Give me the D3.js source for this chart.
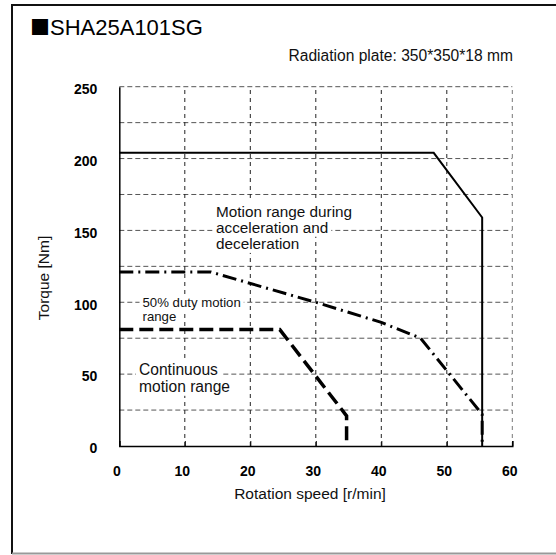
<!DOCTYPE html>
<html>
<head>
<meta charset="utf-8">
<script src="https://cdn.jsdelivr.net/npm/d3@7"></script>
<style>
  html, body { margin: 0; padding: 0; background: #fff; }
  svg { display: block; font-family: "Liberation Sans", Arial, sans-serif; }
</style>
</head>
<body>
<svg id="chart" width="556" height="555"></svg>
<script>
// ---- data ----
const titleMark = "■";
const titleText = "SHA25A101SG";
const noteText = "Radiation plate: 350*350*18 mm";
const xLabel = "Rotation speed [r/min]";
const yLabel = "Torque [Nm]";
const xTicks = [0, 10, 20, 30, 40, 50, 60];
const yTicks = [0, 50, 100, 150, 200, 250];
const xGrid = [10, 20, 30, 40, 50, 60];
const yGrid = [25, 50, 75, 100, 125, 150, 175, 200, 225, 250];

// Motion range during acceleration and deceleration (solid)
const accelSpeed  = [0, 48, 55.4, 55.4];
const accelTorque = [204, 204, 159, 0];
// 50% duty motion range (dash-dot)
const dutySpeed  = [0, 14, 30, 40, 46, 55.4, 55.4];
const dutyTorque = [121, 121, 100, 86, 75, 22, 0];
// Continuous motion range (dashed)
const contSpeed  = [0, 24.5, 34.7, 34.7];
const contTorque = [81, 81, 21, 0];

const accelLabel = ["Motion range during", "acceleration and", "deceleration"];
const dutyLabel = ["50% duty motion", "range"];
const contLabel = ["Continuous", "motion range"];

// ---- drawing ----
const svg = d3.select("#chart");
const x = d3.scaleLinear().domain([0, 60]).range([119.3, 512.3]);
const y = d3.scaleLinear().domain([0, 250]).range([446, 86.7]);

// frame
svg.append("line").attr("x1", 12).attr("x2", 556).attr("y1", 5).attr("y2", 5)
  .attr("stroke", "#111").attr("stroke-width", 2);
svg.append("line").attr("x1", 12).attr("x2", 12).attr("y1", 4).attr("y2", 554)
  .attr("stroke", "#111").attr("stroke-width", 2);
svg.append("line").attr("x1", 12).attr("x2", 556).attr("y1", 553.5).attr("y2", 553.5)
  .attr("stroke", "#999").attr("stroke-width", 2);

// title and note
const tt = svg.append("text").attr("x", 30).attr("y", 35).attr("font-size", 22).attr("fill", "#000");
tt.append("tspan").attr("font-family", "Noto Sans CJK JP").attr("font-size", 20).text(titleMark);
tt.append("tspan").text(titleText);
svg.append("text").attr("x", 513).attr("y", 61).attr("font-size", 15.6)
  .attr("text-anchor", "end").attr("fill", "#111").text(noteText);

// grid
const g = svg.append("g");
g.selectAll("line.hg").data(yGrid).join("line").attr("class", "hg")
  .attr("x1", x(0)).attr("x2", x(60))
  .attr("y1", d => y(d)).attr("y2", d => y(d))
  .attr("stroke", "#555").attr("stroke-width", 1).attr("stroke-dasharray", "5,3");
g.selectAll("line.vg").data(xGrid).join("line").attr("class", "vg")
  .attr("x1", d => x(d)).attr("x2", d => x(d))
  .attr("y1", y(0)).attr("y2", y(250))
  .attr("stroke", d => d === 60 ? "#777" : "#222").attr("stroke-width", 1)
  .attr("stroke-dasharray", "4,4");

// region labels with white backgrounds
function multiText(lines, x0, y0, lh, fs) {
  const grp = svg.append("g");
  lines.forEach((l, i) => {
    const t = grp.append("text").attr("x", x0).attr("y", y0 + i * lh)
      .attr("font-size", fs).attr("fill", "#111").text(l);
    const b = t.node().getBBox();
    grp.insert("rect", "text").attr("x", b.x - 3).attr("y", b.y - 1)
      .attr("width", b.width + 6).attr("height", b.height + 2).attr("fill", "#fff");
  });
}
multiText(accelLabel, 216, 216.5, 16.2, 15.3);
multiText(dutyLabel, 142.5, 307, 14, 13.2);
multiText(contLabel, 139, 375, 16.8, 15.6);

// axes
const xAxis = d3.axisBottom(x).tickValues(xTicks).tickSize(-5).tickPadding(12)
  .tickFormat(d3.format("d"));
const xa = svg.append("g").attr("transform", `translate(0,${y(0)})`).call(xAxis);
xa.select(".domain").attr("stroke", "#000").attr("stroke-width", 1.5);
xa.selectAll(".tick line").attr("stroke", "#000");
xa.selectAll(".tick text").attr("font-size", 14).attr("font-weight", "bold")
  .attr("font-family", "Liberation Sans, Arial, sans-serif").attr("fill", "#000")
  .attr("dx", -3).attr("dy", "1.28em");

const yAxis = d3.axisLeft(y).tickValues(yTicks).tickSize(0).tickPadding(22)
  .tickFormat(d3.format("d"));
const ya = svg.append("g").attr("transform", `translate(${x(0)},0)`).call(yAxis);
ya.select(".domain").attr("stroke", "#000").attr("stroke-width", 1.5);
ya.selectAll(".tick text").attr("font-size", 14).attr("font-weight", "bold")
  .attr("font-family", "Liberation Sans, Arial, sans-serif").attr("fill", "#000")
  .attr("dy", "0.48em");

// axis labels
svg.append("text").attr("x", 310).attr("y", 499).attr("font-size", 15.5)
  .attr("text-anchor", "middle").attr("fill", "#111").text(xLabel);
svg.append("text").attr("transform", "translate(49,278) rotate(-90)")
  .attr("font-size", 15.5).attr("text-anchor", "middle").attr("fill", "#111").text(yLabel);

// curves
const line = d3.line().x(d => x(d[0])).y(d => y(d[1]));
const zip = (a, b) => a.map((v, i) => [v, b[i]]);

svg.append("path").datum(zip(contSpeed, contTorque)).attr("d", line)
  .attr("fill", "none").attr("stroke", "#000").attr("stroke-width", 3.5)
  .attr("stroke-dasharray", "14,6");
svg.append("path").datum(zip(dutySpeed, dutyTorque)).attr("d", line)
  .attr("fill", "none").attr("stroke", "#000").attr("stroke-width", 3)
  .attr("stroke-dasharray", "14,5,2,5");
svg.append("path").datum(zip(accelSpeed, accelTorque)).attr("d", line)
  .attr("fill", "none").attr("stroke", "#000").attr("stroke-width", 2);
</script>
</body>
</html>
